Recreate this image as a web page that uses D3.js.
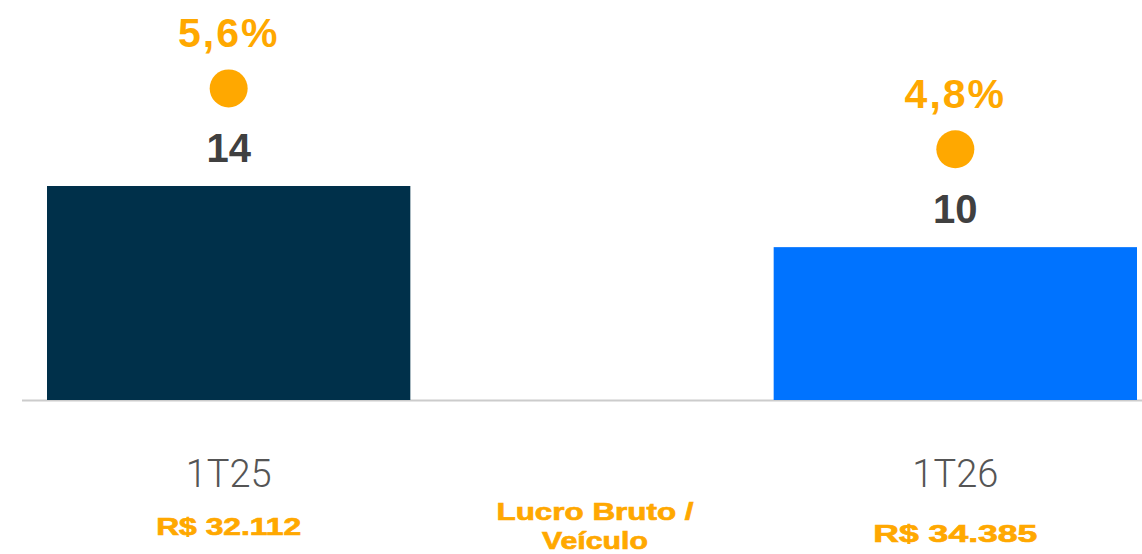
<!DOCTYPE html>
<html>
<head>
<meta charset="utf-8">
<script src="https://cdn.jsdelivr.net/npm/d3@7"></script>
<style>
  html, body { margin: 0; padding: 0; background: #ffffff; }
  svg { display: block; }
</style>
</head>
<body>
<svg id="chart" width="1142" height="554"></svg>
<script>
// Gross profit (R$ mi) per quarter, margin (%) and gross profit per vehicle
const categories = ["1T25", "1T26"];
const grossProfit = [14, 10];
const margin = [5.6, 4.8];
const marginLabels = ["5,6%", "4,8%"];
const perVehicle = ["R$ 32.112", "R$ 34.385"];
const footerLines = ["Lucro Bruto /", "Veículo"];

const barColors = ["#00304a", "#0073ff"];
const orange = "#ffa800";

const svg = d3.select("#chart");

const x = d3.scaleBand()
  .domain(categories)
  .range([47, 1137])
  .paddingInner(0.5)
  .paddingOuter(0);

const y = d3.scaleLinear().domain([0, 14]).range([400, 186]);
const y2 = d3.scaleLinear().domain([4, 6]).range([210, 58]);

// baseline
svg.append("line")
  .attr("x1", 22).attr("x2", 1142)
  .attr("y1", y(0) + 0.5).attr("y2", y(0) + 0.5)
  .attr("stroke", "#cccccc").attr("stroke-width", 2);

// bars
svg.selectAll("rect.bar")
  .data(categories)
  .join("rect")
  .attr("class", "bar")
  .attr("x", d => x(d))
  .attr("y", (d, i) => y(grossProfit[i]))
  .attr("width", x.bandwidth())
  .attr("height", (d, i) => y(0) - y(grossProfit[i]))
  .attr("fill", (d, i) => barColors[i]);

const cx = d => x(d) + x.bandwidth() / 2;

// value labels
svg.selectAll("text.val")
  .data(categories)
  .join("text")
  .attr("class", "val")
  .attr("x", d => cx(d))
  .attr("y", (d, i) => y(grossProfit[i]) - 24)
  .attr("text-anchor", "middle")
  .attr("font-family", "Liberation Sans, Arial, sans-serif")
  .attr("font-weight", 700)
  .attr("font-size", 40)
  .attr("fill", "#404040")
  .text((d, i) => grossProfit[i]);

// margin dots
svg.selectAll("circle.dot")
  .data(categories)
  .join("circle")
  .attr("class", "dot")
  .attr("cx", d => cx(d))
  .attr("cy", (d, i) => y2(margin[i]))
  .attr("r", 19)
  .attr("fill", orange);

// margin labels
svg.selectAll("text.pct")
  .data(categories)
  .join("text")
  .attr("class", "pct")
  .attr("x", d => cx(d))
  .attr("y", (d, i) => y2(margin[i]) - 41)
  .attr("text-anchor", "middle")
  .attr("font-family", "Liberation Sans, Arial, sans-serif")
  .attr("font-weight", 700)
  .attr("font-size", 41)
  .attr("letter-spacing", 2)
  .attr("fill", orange)
  .text((d, i) => marginLabels[i]);

// category axis
const axis = svg.append("g")
  .attr("transform", `translate(0, ${y(0)})`)
  .call(d3.axisBottom(x).tickSize(0).tickPadding(0));
axis.select(".domain").remove();
axis.selectAll("text")
  .attr("y", 87)
  .attr("dy", null)
  .attr("font-family", "Roboto, sans-serif")
  .attr("font-weight", 300)
  .attr("font-size", 38)
  .attr("fill", "#555555");

// gross profit per vehicle
const pvY = [535, 542];
const pvLen = [145, 164];
svg.selectAll("text.pv")
  .data(categories)
  .join("text")
  .attr("class", "pv")
  .attr("x", d => cx(d))
  .attr("y", (d, i) => pvY[i])
  .attr("text-anchor", "middle")
  .attr("font-family", "Liberation Sans, Arial, sans-serif")
  .attr("font-weight", 700)
  .attr("font-size", 24)
  .attr("textLength", (d, i) => pvLen[i])
  .attr("lengthAdjust", "spacingAndGlyphs")
  .attr("fill", orange)
  .attr("stroke", orange)
  .attr("stroke-width", 0.7)
  .text((d, i) => perVehicle[i]);

// footer caption
const footLen = [197, 106];
svg.selectAll("text.foot")
  .data(footerLines)
  .join("text")
  .attr("class", "foot")
  .attr("x", 595)
  .attr("y", (d, i) => 520 + i * 29)
  .attr("text-anchor", "middle")
  .attr("font-family", "Liberation Sans, Arial, sans-serif")
  .attr("font-weight", 700)
  .attr("font-size", 24)
  .attr("textLength", (d, i) => footLen[i])
  .attr("lengthAdjust", "spacingAndGlyphs")
  .attr("fill", orange)
  .attr("stroke", orange)
  .attr("stroke-width", 0.7)
  .text(d => d);
</script>
</body>
</html>
